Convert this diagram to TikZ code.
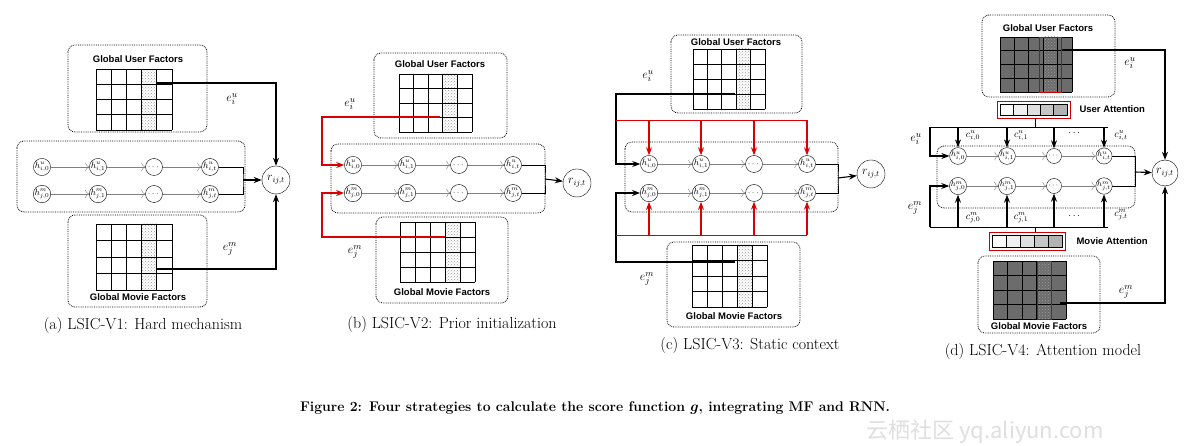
\documentclass[tikz,border=0pt]{standalone}
\usepackage{fontspec}
\usepackage{amsmath,bm}
\newfontfamily\lblfont{Liberation Sans}
\newfontfamily\wmfont{Noto Sans CJK SC}
\usetikzlibrary{arrows.meta,patterns}

\tikzset{
  panel/.style={draw, densely dotted, thick, rounded corners=7pt},
  hnode/.style={circle, draw, fill=white, inner sep=0pt, minimum size=17pt, font=\fontsize{9}{10}\selectfont},
  rnode/.style={circle, draw, fill=white, inner sep=0pt, minimum size=28pt, font=\fontsize{12}{13}\selectfont},
  chain/.style={gray, -{To[length=4pt]}},
  feed/.style={line width=1.1pt, -{Stealth[length=8pt,width=6pt]}},
  redfeed/.style={feed, red!85!black},
  title/.style={font=\lblfont\bfseries\fontsize{9.5}{11}\selectfont},
  caption/.style={font=\fontsize{16}{18}\selectfont},
  elabel/.style={font=\fontsize{13}{14}\selectfont, inner sep=1pt},
  clabel/.style={font=\fontsize{10}{11}\selectfont, inner sep=1pt},
}

% factor matrix: x0 y0 x1 y1 cell-style
\newcommand\factorgrid[5]{%
  \fill[#5] (#1,#2) rectangle (#3,#4);
  \fill[pattern=crosshatch dots, pattern color=gray!80] ({#1+3*(#3-#1)/5},#2) rectangle ({#1+4*(#3-#1)/5},#4);
  \foreach \k in {0,...,5} \draw[thick] ({#1+\k*(#3-#1)/5},#2) -- ({#1+\k*(#3-#1)/5},#4);
  \foreach \k in {0,...,4} \draw[thick] (#1,{#2+\k*(#4-#2)/4}) -- (#3,{#2+\k*(#4-#2)/4});
}

% two RNN rows: prefix x0 x1 x2 x3 yu ym
\newcommand\rnnrows[7]{%
  \node[hnode] (#1u0) at (#2,#6) {$h^{u}_{i,0}$};
  \node[hnode] (#1u1) at (#3,#6) {$h^{u}_{i,1}$};
  \node[hnode] (#1u2) at (#4,#6) {$\cdots$};
  \node[hnode] (#1u3) at (#5,#6) {$h^{u}_{i,t}$};
  \node[hnode] (#1m0) at (#2,#7) {$h^{m}_{j,0}$};
  \node[hnode] (#1m1) at (#3,#7) {$h^{m}_{j,1}$};
  \node[hnode] (#1m2) at (#4,#7) {$\cdots$};
  \node[hnode] (#1m3) at (#5,#7) {$h^{m}_{j,t}$};
  \foreach \a/\b in {0/1,1/2,2/3} {
    \draw[chain] (#1u\a) -- (#1u\b);
    \draw[chain] (#1m\a) -- (#1m\b);
  }
}

% attention vector: x0 y0 x1 y1
\newcommand\attvec[4]{%
  \foreach \k/\c in {0/white,1/gray!12,2/gray!25,3/gray!45,4/gray!60}
    \filldraw[fill=\c, draw=black] ({#1+3+\k*(#3-#1-6)/5},#2+3) rectangle ({#1+3+(\k+1)*(#3-#1-6)/5},#4-3);
  \draw[red!80!black, thick] (#1,#2) rectangle (#3,#4);
}

\begin{document}
\begin{tikzpicture}[x=1pt, y=-1pt]
  \useasboundingbox[fill=white] (0,0) rectangle (1187,446);

  % ---------- (a) hard mechanism ----------
  \draw[panel] (68,45) rectangle (207,132);
  \node[title] at (138,59) {Global User Factors};
  \factorgrid{96}{69}{172}{130}{white}
  \draw[panel] (17,141) rectangle (245,212);
  \rnnrows{a}{42}{98}{154}{210}{167}{194}
  \draw[panel] (68,215) rectangle (207,307);
  \factorgrid{96}{224}{172}{290}{white}
  \node[title] at (138,297) {Global Movie Factors};
  \node[rnode] (ar) at (276,180) {$r_{ij,t}$};
  \coordinate (aj) at (243,180);
  \draw[thick] (au3.east) -| (aj) |- (am3.east);
  \draw[feed] (aj) -- (ar);
  \coordinate (aeu) at (157,83);
  \coordinate (aem) at (157,269);
  \draw[feed] (aeu) -| (ar.north);
  \draw[feed] (aem) -| (ar.south);
  \node[elabel] at (232,99) {$e^{u}_{i}$};
  \node[elabel] at (230,249) {$e^{m}_{j}$};
  \node[caption] at (143,326) {(a) LSIC-V1: Hard mechanism};

  % ---------- (b) prior initialization ----------
  \draw[panel] (374,53) rectangle (507,138);
  \node[title] at (440,64) {Global User Factors};
  \factorgrid{399}{74}{472}{132}{white}
  \draw[panel] (331,144) rectangle (545,213);
  \rnnrows{b}{353}{407}{459}{513}{165}{193}
  \draw[panel] (376,217) rectangle (508,303);
  \factorgrid{400}{222}{475}{282}{white}
  \node[title] at (442,292) {Global Movie Factors};
  \node[rnode] (br) at (577,183) {$r_{ij,t}$};
  \coordinate (bj) at (545,179);
  \draw[thick] (bu3.east) -| (bj) |- (bm3.east);
  \draw[feed] (bj) -- (br);
  \coordinate (beu) at (440,117);
  \coordinate (bem) at (445,237);
  \draw[redfeed] (beu) -- (322,117) |- (bu0.west);
  \draw[redfeed] (bem) -- (322,237) |- (bm0.west);
  \node[elabel] at (350,104) {$e^{u}_{i}$};
  \node[elabel] at (355,252) {$e^{m}_{j}$};
  \node[caption] at (452,325) {(b) LSIC-V2: Prior initialization};

  % ---------- (c) static context ----------
  \draw[panel] (671,35) rectangle (802,113);
  \node[title] at (736,42) {Global User Factors};
  \factorgrid{693}{49}{765}{109}{white}
  \draw[panel] (625,142) rectangle (838,212);
  \rnnrows{c}{649}{701}{754}{807}{164}{193}
  \draw[panel] (667,242) rectangle (800,327);
  \factorgrid{692}{245}{767}{307}{white}
  \node[title] at (734,316) {Global Movie Factors};
  \node[rnode] (cr) at (871,174) {$r_{ij,t}$};
  \coordinate (cj) at (838,178);
  \draw[thick] (cu3.east) -| (cj) |- (cm3.east);
  \draw[feed] (cj) -- (cr);
  \coordinate (ceu) at (735,94);
  \coordinate (cem) at (735,262);
  \draw[feed] (ceu) -- (616,94) |- (cu0.west);
  \draw[feed] (cem) -- (616,262) |- (cm0.west);
  \coordinate (cbu) at (616,120);
  \coordinate (cbm) at (616,235);
  \draw[red!85!black, thick] (cbu) -- (807,120);
  \draw[red!85!black, thick] (cbm) -- (807,235);
  \foreach \k in {0,...,3} {
    \draw[redfeed] (cu\k.north |- cbu) -- (cu\k.north);
    \draw[redfeed] (cm\k.south |- cbm) -- (cm\k.south);
  }
  \node[elabel] at (648,76) {$e^{u}_{i}$};
  \node[elabel] at (647,279) {$e^{m}_{j}$};
  \node[caption] at (750,346) {(c) LSIC-V3: Static context};

  % ---------- (d) attention model ----------
  \draw[panel] (982,15) rectangle (1115,97);
  \node[title] at (1048,28) {Global User Factors};
  \factorgrid{1000}{37}{1072}{92}{gray!85!black}
  \draw[red!80!black, thick] (1039,37) rectangle (1061,92);
  \attvec{997}{101}{1070}{118}
  \node[title, anchor=west] at (1076,109) {User Attention};
  \draw[panel] (937,146) rectangle (1135,208);
  \begin{scope}[hnode/.append style={minimum size=15pt, font=\fontsize{8}{9}\selectfont}]
    \rnnrows{d}{958}{1007}{1054}{1104}{156}{186}
  \end{scope}
  \attvec{989}{232}{1065}{250}
  \node[title, anchor=west] at (1073,241) {Movie Attention};
  \draw[panel] (978,256) rectangle (1100,333);
  \factorgrid{993}{261}{1066}{319}{gray!85!black}
  \draw[red!80!black, thick] (1037,261) rectangle (1051,319);
  \node[title] at (1039,326) {Global Movie Factors};
  \node[rnode, minimum size=26pt] (dr) at (1165,173) {$r_{ij,t}$};
  \coordinate (dj) at (1135,172);
  \draw[thick] (du3.east) -| (dj) |- (dm3.east);
  \draw[feed] (dj) -- (dr);
  \coordinate (deu) at (1062,50);
  \coordinate (dem) at (1060,303);
  \draw[feed] (deu) -| (dr.north);
  \draw[feed] (dem) -| (dr.south);
  \coordinate (dbu) at (930,127);
  \coordinate (dbm) at (930,227);
  \draw[thick] (dbu) -- (1108,127);
  \draw[thick] (dbm) -- (1108,227);
  \draw[thick] (1035,118) -- (1035,127);
  \draw[thick] (1035,227) -- (1035,232);
  \draw[feed] (dbu) |- (du0.west);
  \draw[feed] (dbm) |- (dm0.west);
  \foreach \k in {0,...,3} {
    \draw[feed] (du\k.north |- dbu) -- (du\k.north);
    \draw[feed] (dm\k.south |- dbm) -- (dm\k.south);
  }
  \node[clabel] at (973,136) {$c^{u}_{i,0}$};
  \node[clabel] at (1021,136) {$c^{u}_{i,1}$};
  \node[clabel] at (1075,133) {$\cdots$};
  \node[clabel] at (1121,136) {$c^{u}_{i,t}$};
  \node[clabel] at (973,218) {$c^{m}_{j,0}$};
  \node[clabel] at (1021,218) {$c^{m}_{j,1}$};
  \node[clabel] at (1075,216) {$\cdots$};
  \node[clabel] at (1121,215) {$c^{m}_{j,t}$};
  \node[elabel] at (916,139) {$e^{u}_{i}$};
  \node[elabel] at (915,208) {$e^{m}_{j}$};
  \node[elabel] at (1130,63) {$e^{u}_{i}$};
  \node[elabel] at (1126,292) {$e^{m}_{j}$};
  \node[caption] at (1043,352) {(d) LSIC-V4: Attention model};

  % ---------- figure caption ----------
  \node[font=\bfseries\fontsize{14}{16}\selectfont] (fig) at (595,408)
    {Figure 2: Four strategies to calculate the score function $\bm{g}$, integrating MF and RNN.};
  \node[font=\wmfont\fontsize{22}{24}\selectfont, text=gray!25] (wm) at (985,432) {云栖社区 yq.aliyun.com};
\end{tikzpicture}
\end{document}
